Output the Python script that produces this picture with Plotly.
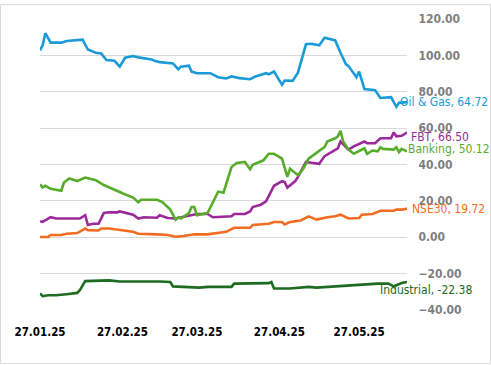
import plotly.graph_objects as go

# ---------------- data ----------------
oil_dates = ["2025-01-27","2025-01-28","2025-01-29","2025-01-31","2025-02-04","2025-02-06","2025-02-12","2025-02-14",
             "2025-02-17","2025-02-19","2025-02-21","2025-02-24","2025-02-26","2025-02-28","2025-03-03","2025-03-05",
             "2025-03-10","2025-03-11","2025-03-13","2025-03-18","2025-03-20","2025-03-21","2025-03-24","2025-03-25",
             "2025-03-27","2025-04-01","2025-04-04","2025-04-07","2025-04-09","2025-04-12","2025-04-16","2025-04-18",
             "2025-04-22","2025-04-23","2025-04-25","2025-04-28","2025-04-29","2025-05-02","2025-05-04","2025-05-07",
             "2025-05-09","2025-05-12","2025-05-14","2025-05-18","2025-05-20","2025-05-22","2025-05-23","2025-05-26",
             "2025-05-27","2025-05-29","2025-06-02","2025-06-04","2025-06-08","2025-06-10","2025-06-11","2025-06-13",
             "2025-06-14"]
oil_values = [102.8,105.5,112.2,107,107,107.9,108.6,103.2,101.4,101,97.4,97,93.8,98.7,99.6,98.9,97.8,97,96.3,95.6,
              92.3,93.8,94.3,91.1,90.2,90.2,88,87.3,88.4,87.5,86.9,88.4,90.2,89.6,91.1,83.8,86.2,86,90.5,106.1,
              106.4,105.5,109.7,108.2,101.4,95.2,94.1,88,91.1,81.5,80.8,76.6,77,71.7,73.9,74.3,74.3]

fbt_dates = ["2025-01-27","2025-01-28","2025-01-31","2025-02-02","2025-02-06","2025-02-11","2025-02-13","2025-02-14",
             "2025-02-16","2025-02-18","2025-02-20","2025-02-22","2025-02-25","2025-02-26","2025-03-03","2025-03-05",
             "2025-03-07","2025-03-12","2025-03-13","2025-03-16","2025-03-19","2025-03-23","2025-03-27","2025-03-31",
             "2025-04-02","2025-04-09","2025-04-10","2025-04-14","2025-04-16","2025-04-17","2025-04-20","2025-04-22",
             "2025-04-25","2025-04-28","2025-04-29","2025-04-30","2025-05-03","2025-05-04","2025-05-07","2025-05-09",
             "2025-05-12","2025-05-14","2025-05-18","2025-05-19","2025-05-20","2025-05-23","2025-05-25","2025-05-27",
             "2025-05-29","2025-05-30","2025-06-02","2025-06-04","2025-06-08","2025-06-09","2025-06-10","2025-06-12",
             "2025-06-14"]
fbt_values = [8.8,8.4,11,10.3,10.3,10.3,12.1,6.7,7.4,7.4,13.3,13.7,13.7,14.2,12.4,10.3,11,10.7,12.1,10.6,10.3,11.5,
              12.8,12.8,11,11.5,12.8,12.8,14.2,16.6,17.9,19.7,28.3,30.9,30.4,27.3,30.9,33.2,41.4,41,40.4,44.6,47.7,
              48.9,52.6,48.2,50,51.3,52.6,51.7,51.7,54.4,54.4,57.6,55.5,55.8,57.6]

bank_dates = ["2025-01-27","2025-01-28","2025-01-29","2025-01-31","2025-02-04","2025-02-05","2025-02-07","2025-02-10",
              "2025-02-13","2025-02-17","2025-02-20","2025-02-23","2025-02-27","2025-03-03","2025-03-05","2025-03-06",
              "2025-03-08","2025-03-12","2025-03-14","2025-03-17","2025-03-19","2025-03-20","2025-03-21","2025-03-24",
              "2025-03-25","2025-03-26","2025-03-27","2025-03-31","2025-04-04","2025-04-06","2025-04-09","2025-04-11",
              "2025-04-14","2025-04-16","2025-04-17","2025-04-21","2025-04-23","2025-04-25","2025-04-28","2025-04-30",
              "2025-05-01","2025-05-04","2025-05-06","2025-05-08","2025-05-13","2025-05-14","2025-05-15","2025-05-18",
              "2025-05-19","2025-05-20","2025-05-21","2025-05-23","2025-05-25","2025-05-28","2025-05-29","2025-05-30",
              "2025-06-01","2025-06-03","2025-06-04","2025-06-05","2025-06-09","2025-06-10","2025-06-11","2025-06-12",
              "2025-06-14"]
bank_values = [29.1,27.3,28.3,26.6,25.6,30.1,32.3,30.9,32.8,31.4,28.7,26.6,24.2,21.8,19.3,20.6,20.6,20.6,19.3,15.2,
               9.7,11,10.3,13.3,16.6,16.6,12.1,13.3,25.1,24.5,38.6,40.8,41.4,37.4,39.9,42.3,45.9,45.9,43.2,33.2,
               37.7,34.1,37.7,43.2,48.6,49.5,52.6,54.4,55.5,58.5,52.6,48.2,45.9,48.2,48.9,45.9,47.7,47.2,49.5,48.6,
               48.2,49.5,46.8,48.6,47.2]

nse_dates = ["2025-01-27","2025-01-30","2025-01-31","2025-02-04","2025-02-06","2025-02-10","2025-02-13","2025-02-14",
             "2025-02-18","2025-02-19","2025-02-22","2025-02-26","2025-03-03","2025-03-05","2025-03-08","2025-03-12",
             "2025-03-16","2025-03-19","2025-03-22","2025-03-26","2025-03-31","2025-04-04","2025-04-07","2025-04-10",
             "2025-04-16","2025-04-17","2025-04-23","2025-04-25","2025-04-28","2025-04-29","2025-05-01","2025-05-05",
             "2025-05-08","2025-05-11","2025-05-15","2025-05-18","2025-05-20","2025-05-23","2025-05-27","2025-05-28",
             "2025-06-01","2025-06-04","2025-06-09","2025-06-10","2025-06-12","2025-06-14"]
nse_values = [0.1,0.1,1.2,1.2,1.9,2.3,4.8,3.9,3.7,4.8,4.8,3.9,3.0,1.9,1.9,1.6,1.2,0.3,0.7,1.6,1.6,2.5,3.0,5.2,5.2,
              6.7,7.4,8.4,8.4,7.0,8.4,9.2,11.5,9.7,11,11.5,12.4,10.3,10.6,12.4,12.8,14.6,14.6,15.2,15.2,15.7]

ind_dates = ["2025-01-27","2025-01-28","2025-01-30","2025-02-02","2025-02-06","2025-02-10","2025-02-11","2025-02-13",
             "2025-02-22","2025-02-26","2025-03-13","2025-03-17","2025-03-18","2025-03-22","2025-03-28","2025-03-31",
             "2025-04-09","2025-04-10","2025-04-15","2025-04-23","2025-04-24","2025-04-25","2025-05-01","2025-05-08",
             "2025-05-11","2025-05-15","2025-05-23","2025-05-30","2025-06-03","2025-06-07","2025-06-09","2025-06-10",
             "2025-06-12","2025-06-14"]
ind_values = [-30.9,-32.4,-31.9,-31.9,-31.3,-30.6,-29.1,-24.1,-23.7,-24.3,-24.3,-24.6,-27,-27.3,-27.7,-27.3,-27.3,
              -25.5,-25.5,-25.2,-24.6,-28.2,-28.2,-27.3,-27.7,-27.3,-26.4,-25.9,-25.5,-25.5,-27,-26.4,-25.2,-24.6]

series_names = ["Oil & Gas", "FBT", "Banking", "NSE30", "Industrial"]
end_labels = ["Oil & Gas, 64.72", "FBT, 66.50", "Banking, 50.12", "NSE30, 19.72", "Industrial, -22.38"]
tick_dates = ["2025-01-27", "2025-02-27", "2025-03-27", "2025-04-27", "2025-05-27"]
tick_text = ["27.01.25", "27.02.25", "27.03.25", "27.04.25", "27.05.25"]
y_ticks = [-40, -20, 0, 20, 40, 60, 80, 100, 120]

# ---------------- styling ----------------
colors = ["#1a9bd7", "#9c2a9a", "#58ac2c", "#f26c22", "#1e6b22"]
label_pos = [(0.979, 74.4), (1.008, 54.9), (0.999, 48.4), (1.011, 15.3), (0.923, -29.1)]
FONT = "DejaVu Sans Condensed"

fig = go.Figure()
data = [(oil_dates, oil_values), (fbt_dates, fbt_values), (bank_dates, bank_values),
        (nse_dates, nse_values), (ind_dates, ind_values)]
for (d, v), name, c in zip(data, series_names, colors):
    fig.add_trace(go.Scatter(x=d, y=v, mode="lines", name=name,
                             line=dict(color=c, width=2.6), showlegend=False))

for txt, c, (px, py) in zip(end_labels, colors, label_pos):
    fig.add_annotation(x=px, y=py, xref="paper", yref="y", text=txt, showarrow=False,
                       xanchor="left", yanchor="middle",
                       font=dict(family=FONT, size=12, color=c), borderpad=0)

# outer light border around the whole picture
fig.add_shape(type="rect", xref="paper", yref="paper",
              x0=-0.1076, x1=1.2275, y0=-0.1847, y1=1.0492,
              line=dict(color="#d9d9d9", width=1), fillcolor="rgba(0,0,0,0)", layer="below")

fig.update_layout(
    width=491, height=365,
    margin=dict(l=40, r=84, t=15, b=55),
    paper_bgcolor="white", plot_bgcolor="white",
    xaxis=dict(range=["2025-01-27", "2025-06-14"], tickmode="array", tickvals=tick_dates,
               ticktext=tick_text, showgrid=False, zeroline=False, showline=False,
               ticks="outside", ticklen=11, tickcolor="rgba(0,0,0,0)",
               tickfont=dict(family=FONT, size=11.5, color="#000000", weight="bold")),
    yaxis=dict(range=[-40, 120], side="right", tickmode="array", tickvals=y_ticks,
               tickformat=".2f", showgrid=True, gridcolor="#d9d9d9", gridwidth=1.3,
               zeroline=False, showline=False,
               ticks="outside", ticklen=8, tickcolor="rgba(0,0,0,0)",
               tickfont=dict(family=FONT, size=12, color="#7f7f7f", weight="bold")),
)

fig.write_html("out.html", config={"displayModeBar": False},
               post_script="document.body.style.margin='0px';")
